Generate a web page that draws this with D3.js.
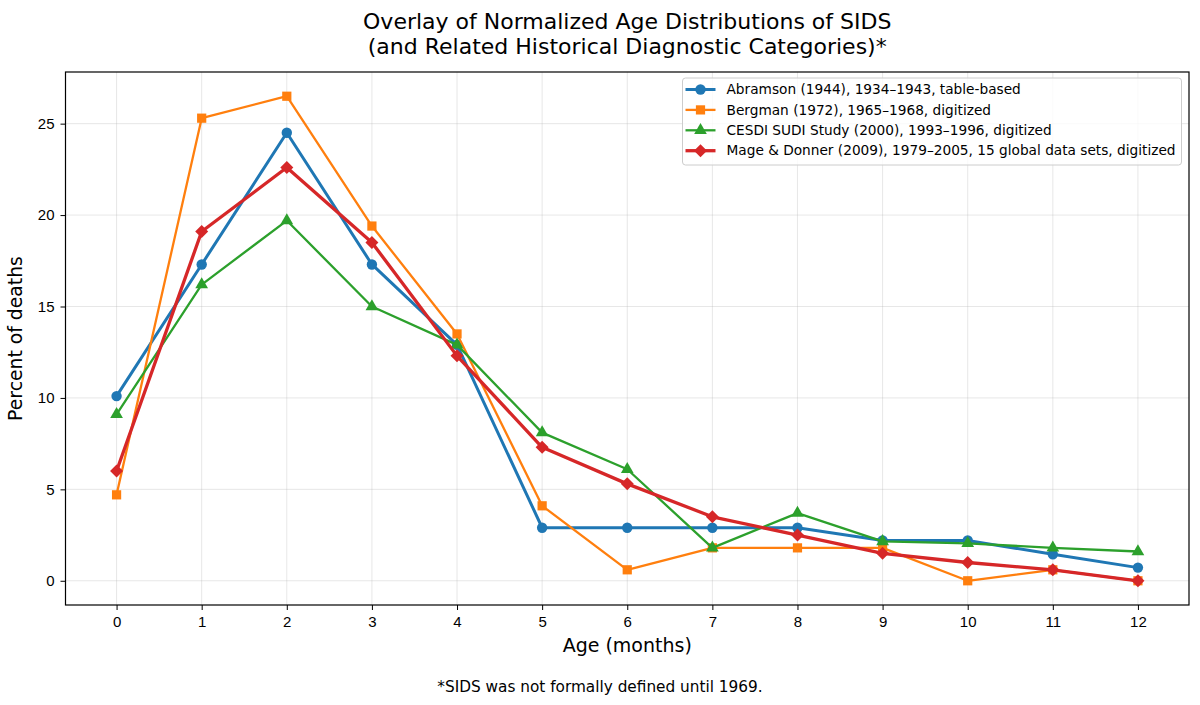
<!DOCTYPE html>
<html>
<head>
<meta charset="utf-8">
<script src="https://cdn.jsdelivr.net/npm/d3@7"></script>
<style>
  body { margin: 0; background: #fff; }
  svg { font-family: "DejaVu Sans", sans-serif; }
  .tick text { font-size: 15px; fill: #000; }
  .tick line { stroke: #000; }
  .domain { display: none; }
  .grid line { stroke: #b0b0b0; stroke-opacity: 0.3; stroke-width: 1; }
</style>
</head>
<body>
<div id="wrapper"></div>
<script>
  // data
  const months = [0, 1, 2, 3, 4, 5, 6, 7, 8, 9, 10, 11, 12]
  const abramson = [10.1, 17.3, 24.5, 17.3, 12.9, 2.9, 2.9, 2.9, 2.9, 2.2, 2.2, 1.45, 0.72]
  const bergman = [4.7, 25.3, 26.5, 19.4, 13.5, 4.1, 0.6, 1.8, 1.8, 1.8, 0, 0.6, 0]
  const cesdi = [9.1, 16.2, 19.7, 15.0, 12.9, 8.1, 6.1, 1.8, 3.7, 2.15, 2.05, 1.8, 1.6]
  const mage = [6.0, 19.1, 22.6, 18.5, 12.3, 7.3, 5.3, 3.5, 2.5, 1.5, 1.0, 0.6, 0.0]
  const seriesNames = [
    "Abramson (1944), 1934\u20131943, table-based",
    "Bergman (1972), 1965\u20131968, digitized",
    "CESDI SUDI Study (2000), 1993\u20131996, digitized",
    "Mage & Donner (2009), 1979\u20132005, 15 global data sets, digitized",
  ]
  const yTicks = [0, 5, 10, 15, 20, 25]

  const series = [
    { name: seriesNames[0], values: abramson, color: "#1f77b4", marker: "circle", width: 3 },
    { name: seriesNames[1], values: bergman, color: "#ff7f0e", marker: "square", width: 2.3 },
    { name: seriesNames[2], values: cesdi, color: "#2ca02c", marker: "triangle", width: 2.3 },
    { name: seriesNames[3], values: mage, color: "#d62728", marker: "diamond", width: 3.3 },
  ]

  const dimensions = {
    width: 1200,
    height: 705,
    margin: { top: 72, right: 11, bottom: 100, left: 65.5 },
  }
  dimensions.boundedWidth = dimensions.width - dimensions.margin.left - dimensions.margin.right
  dimensions.boundedHeight = dimensions.height - dimensions.margin.top - dimensions.margin.bottom

  const wrapper = d3.select("#wrapper")
    .append("svg")
      .attr("width", dimensions.width)
      .attr("height", dimensions.height)

  const bounds = wrapper.append("g")
    .attr("transform", `translate(${dimensions.margin.left}, ${dimensions.margin.top})`)

  // scales (matplotlib style 5% margins)
  const xScale = d3.scaleLinear()
    .domain([-0.6, 12.6])
    .range([0, dimensions.boundedWidth])

  const yMax = d3.max(series, s => d3.max(s.values))
  const yPad = yMax * 0.05
  const yScale = d3.scaleLinear()
    .domain([-yPad, yMax + yPad])
    .range([dimensions.boundedHeight, 0])

  // grid
  bounds.append("g")
    .attr("class", "grid")
    .selectAll("line")
    .data(months)
    .join("line")
      .attr("x1", d => xScale(d))
      .attr("x2", d => xScale(d))
      .attr("y1", 0)
      .attr("y2", dimensions.boundedHeight)

  bounds.append("g")
    .attr("class", "grid")
    .selectAll("line")
    .data(yTicks)
    .join("line")
      .attr("x1", 0)
      .attr("x2", dimensions.boundedWidth)
      .attr("y1", d => yScale(d))
      .attr("y2", d => yScale(d))

  // axes
  const xAxis = bounds.append("g")
    .attr("transform", `translate(0, ${dimensions.boundedHeight})`)
    .call(d3.axisBottom(xScale).tickValues(months).tickFormat(d3.format("d")).tickSize(5).tickPadding(6))

  const yAxis = bounds.append("g")
    .call(d3.axisLeft(yScale).tickValues(yTicks).tickSize(5).tickPadding(6))

  // lines and markers
  const lineGenerator = d3.line()
    .x((d, i) => xScale(months[i]))
    .y(d => yScale(d))

  const symbolTypes = {
    circle: d3.symbolCircle,
    square: d3.symbolSquare,
    triangle: d3.symbolTriangle,
    diamond: d3.symbolDiamond,
  }
  const symbolSizes = { circle: 85, square: 85, triangle: 70, diamond: 95 }

  const markerPath = (marker) => {
    if (marker === "diamond") {
      const r = 6.5
      return `M0,${-r}L${r},0L0,${r}L${-r},0Z`
    }
    return d3.symbol(symbolTypes[marker], symbolSizes[marker])()
  }

  series.forEach(s => {
    const g = bounds.append("g")
    g.append("path")
      .attr("d", lineGenerator(s.values))
      .attr("fill", "none")
      .attr("stroke", s.color)
      .attr("stroke-width", s.width)
      .attr("stroke-linejoin", "round")
    g.selectAll(".marker")
      .data(s.values)
      .join("path")
        .attr("class", "marker")
        .attr("d", markerPath(s.marker))
        .attr("transform", (d, i) => `translate(${xScale(months[i])}, ${yScale(d)})`)
        .attr("fill", s.color)
  })

  // frame
  bounds.append("rect")
    .attr("width", dimensions.boundedWidth)
    .attr("height", dimensions.boundedHeight)
    .attr("fill", "none")
    .attr("stroke", "#000")
    .attr("stroke-width", 1.2)

  // legend
  const legendGroup = bounds.append("g")
    .attr("transform", `translate(${dimensions.boundedWidth - 506.5}, 6)`)
  legendGroup.append("rect")
    .attr("width", 499)
    .attr("height", 87)
    .attr("rx", 3)
    .attr("fill", "#fff")
    .attr("fill-opacity", 0.8)
    .attr("stroke", "#cccccc")
  const legendItems = legendGroup.selectAll(".legend-item")
    .data(series)
    .join("g")
      .attr("class", "legend-item")
      .attr("transform", (d, i) => `translate(3, ${11.5 + i * 20.4})`)
  legendItems.append("line")
    .attr("x1", 0)
    .attr("x2", 30)
    .attr("stroke", d => d.color)
    .attr("stroke-width", d => d.width)
  legendItems.append("path")
    .attr("d", d => markerPath(d.marker))
    .attr("transform", "translate(15, 0)")
    .attr("fill", d => d.color)
  legendItems.append("text")
    .attr("x", 41)
    .attr("dy", "0.35em")
    .style("font-size", "13.7px")
    .text(d => d.name)

  // labels
  wrapper.append("text")
    .attr("x", dimensions.margin.left + dimensions.boundedWidth / 2)
    .attr("y", 29)
    .attr("text-anchor", "middle")
    .style("font-size", "22px")
    .text("Overlay of Normalized Age Distributions of SIDS")
  wrapper.append("text")
    .attr("x", dimensions.margin.left + dimensions.boundedWidth / 2)
    .attr("y", 54)
    .attr("text-anchor", "middle")
    .style("font-size", "22px")
    .text("(and Related Historical Diagnostic Categories)*")

  wrapper.append("text")
    .attr("x", dimensions.margin.left + dimensions.boundedWidth / 2)
    .attr("y", 652)
    .attr("text-anchor", "middle")
    .style("font-size", "19px")
    .text("Age (months)")

  wrapper.append("text")
    .attr("transform", `translate(22, ${dimensions.margin.top + dimensions.boundedHeight / 2}) rotate(-90)`)
    .attr("text-anchor", "middle")
    .style("font-size", "18.8px")
    .text("Percent of deaths")

  wrapper.append("text")
    .attr("x", 600)
    .attr("y", 692)
    .attr("text-anchor", "middle")
    .style("font-size", "15.3px")
    .text("*SIDS was not formally defined until 1969.")
</script>
</body>
</html>
